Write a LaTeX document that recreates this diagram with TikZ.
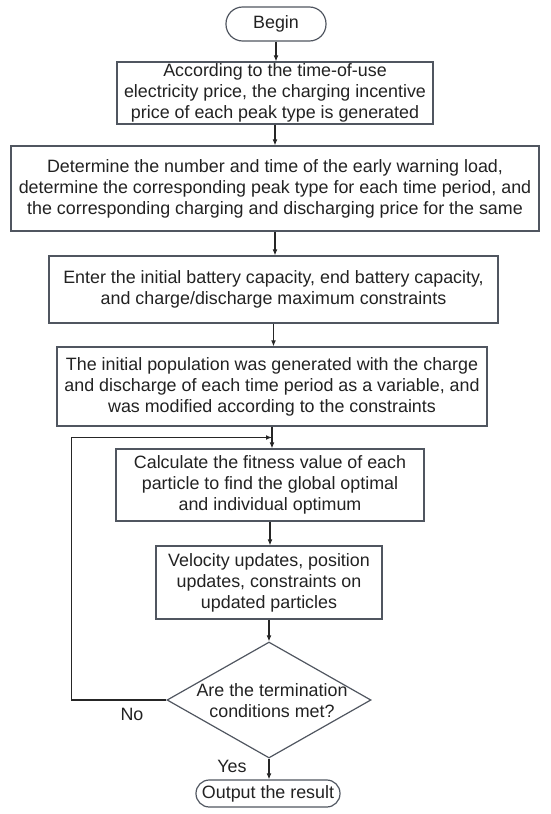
\documentclass[tikz,border=0pt]{standalone}
\usepackage{fontspec}
\setmainfont{Liberation Sans}
\usetikzlibrary{shapes.geometric,arrows.meta,calc}
\definecolor{edgec}{RGB}{80,86,96}
\definecolor{txtc}{RGB}{34,34,34}
\tikzset{
  txt/.style={font=\fontsize{13.4}{15.8}\selectfont, text=txtc, align=center},
  box/.style={txt, draw=edgec, line width=0.9pt, rectangle, inner sep=0pt},
  term/.style={box, rounded corners=10pt},
  dia/.style={draw=edgec, line width=0.9pt, diamond, inner sep=0pt},
  arr/.style={draw=black!85, line width=0.8pt, -{Latex[length=4.5pt,width=3.6pt]}},
}
\begin{document}
\begin{tikzpicture}[x=0.75pt,y=-0.75pt]
\useasboundingbox (0,0) rectangle (550,814);
\node[term, rounded corners=12.5pt, minimum width=75pt, minimum height=25.5pt] (begin) at (276,24) {Begin};
\node[box, minimum width=237pt, minimum height=46.5pt] (b1) at (275,93)
  {According to the time-of-use\\electricity price, the charging incentive\\price of each peak type is generated};
\node[box, minimum width=396pt, minimum height=63.75pt] (b2) at (275,188.5)
  {Determine the number and time of the early warning load,\\determine the corresponding peak type for each time period, and\\the corresponding charging and discharging price for the same};
\node[box, minimum width=336.75pt, minimum height=50.25pt] (b3) at (273.5,289.5)
  {Enter the initial battery capacity, end battery capacity,\\and charge/discharge maximum constraints};
\node[box, minimum width=322.5pt, minimum height=59.25pt] (b4) at (272,386.5)
  {The initial population was generated with the charge\\and discharge of each time period as a variable, and\\was modified according to the constraints};
\node[box, minimum width=231pt, minimum height=54pt] (b5) at (270,485)
  {Calculate the fitness value of each\\particle to find the global optimal\\and individual optimum};
\node[box, minimum width=169.5pt, minimum height=54.75pt] (b6) at (269,582.5)
  {Velocity updates, position\\updates, constraints on\\updated particles};
\node[dia, minimum width=153pt, minimum height=87pt] (d) at (269,700) {};
\node[txt] (dtext) at (272,701) {Are the termination\\conditions met?};
\node[term, minimum width=108pt, minimum height=20.25pt] (out) at (268,793.5) {Output the result};
\node[txt] (no) at (132,714) {No};
\node[txt] (yes) at (232,766) {Yes};
\draw[arr] (begin.south) -- (begin.south |- b1.north);
\draw[arr] (b1.south) -- (b1.south |- b2.north);
\draw[arr] (b2.south) -- (b2.south |- b3.north);
\draw[arr] (b3.south) -- (b3.south |- b4.north);
\draw[arr] (b4.south) -- (b4.south |- b5.north);
\draw[arr] (b5.south) -- (b5.south |- b6.north);
\draw[arr] (b6.south) -- (b6.south |- d.north);
\draw[arr] (d.south) -- (d.south |- out.north);
\coordinate (j) at ($(b4.south)!0.5!(b4.south |- b5.north)$);
\draw[arr] (d.west) -- ++(-95,0) |- (j);
\end{tikzpicture}
\end{document}
